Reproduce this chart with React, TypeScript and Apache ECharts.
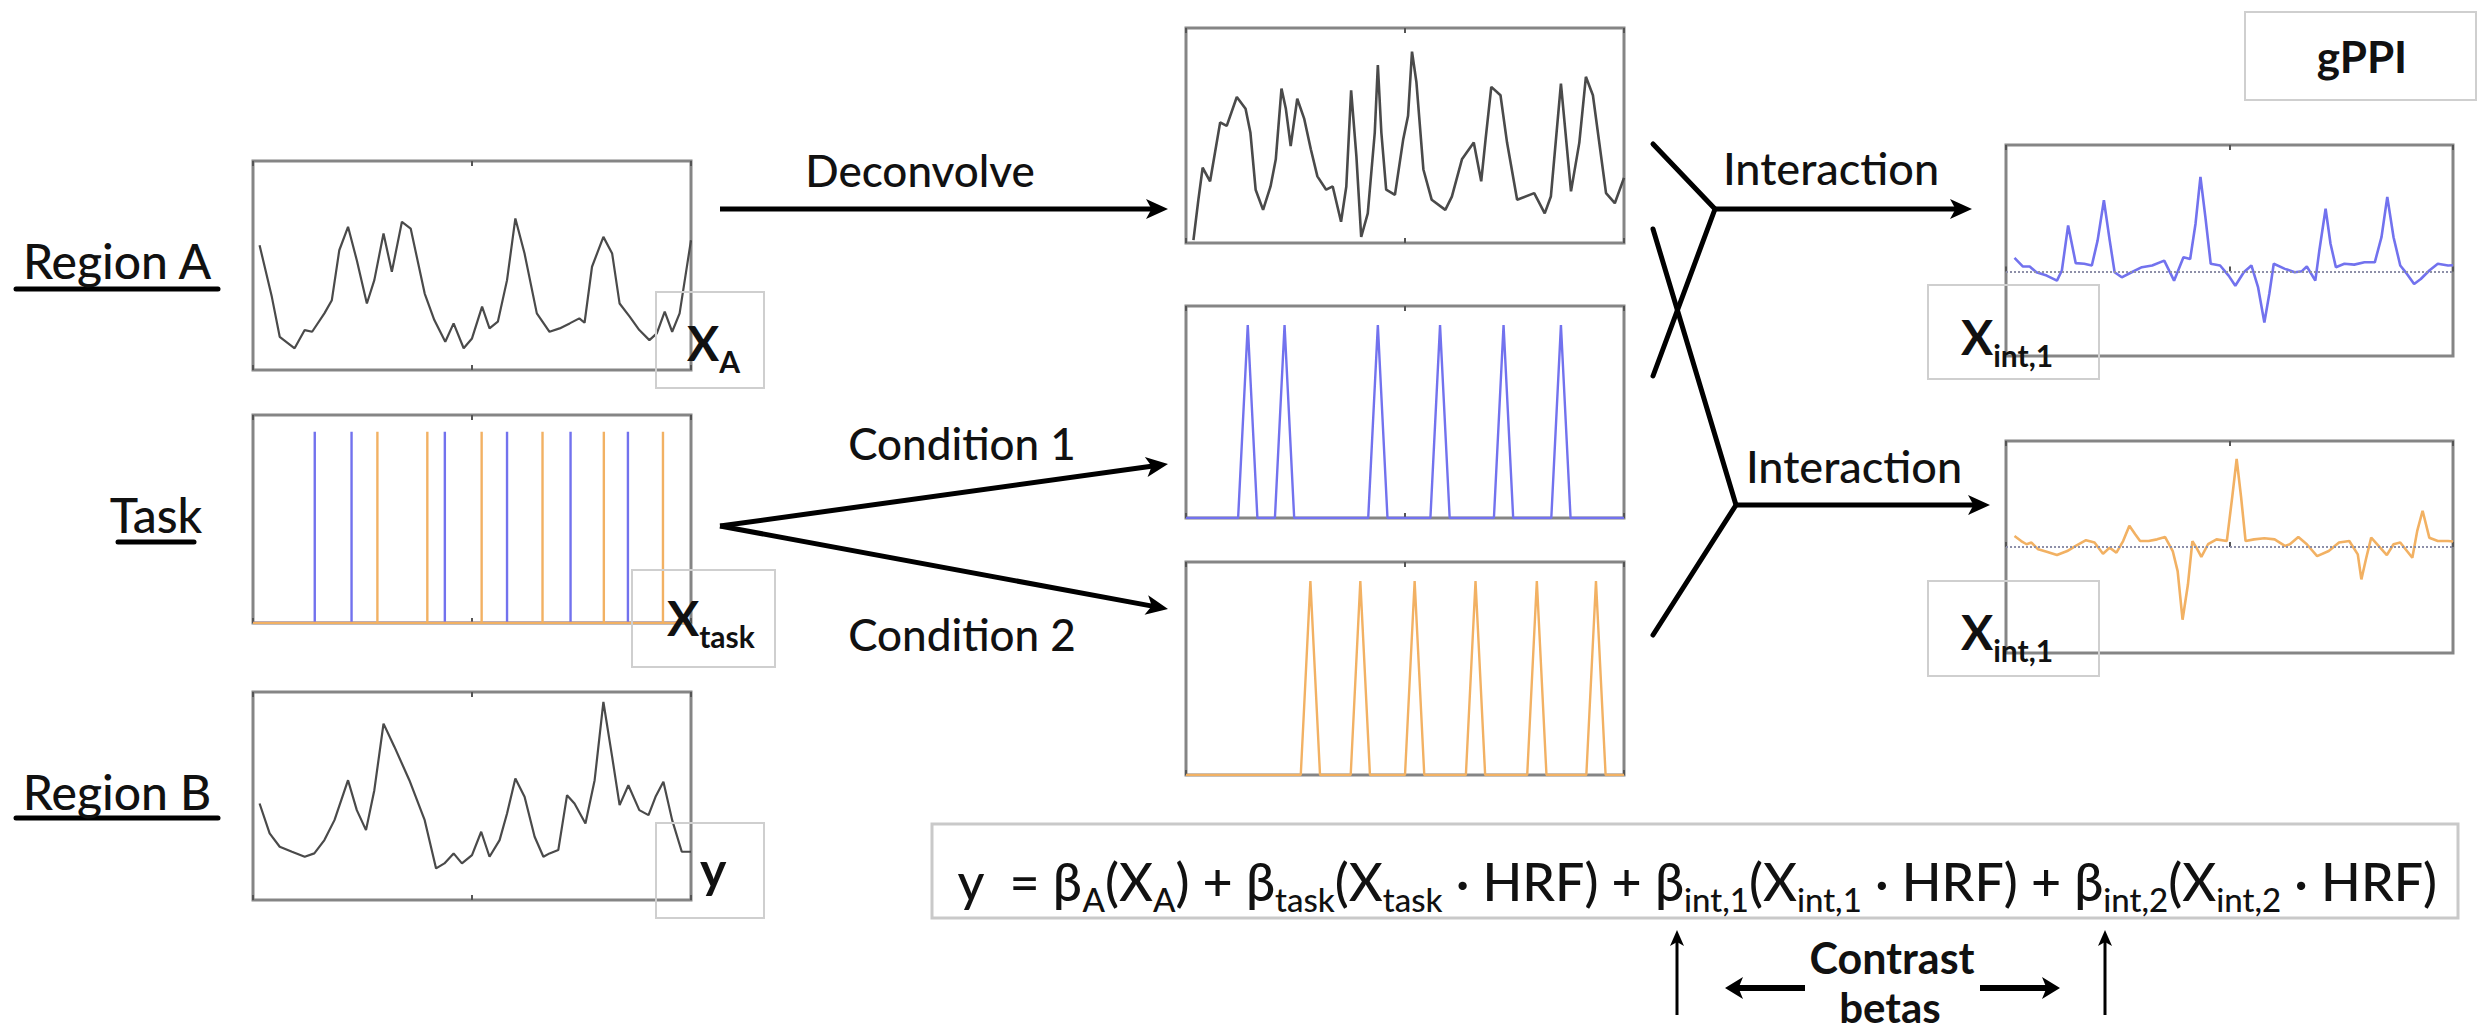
import React, { useEffect, useRef } from 'react';
import * as echarts from 'echarts';

const W = 2479;
const H = 1033;
const FONT = 'Lato, "Open Sans", "DejaVu Sans", sans-serif';

// ---------- data (time axis 0..100) ----------
const regionA: number[][] = [
  [1.5, 5.97], [4.3, 3.5], [6.1, 1.59], [9.5, 1.04], [11.8, 1.91], [13.5, 1.83], [16.3, 2.71], [18.0, 3.34],
  [19.7, 5.73], [21.7, 6.85], [23.7, 5.25], [26.0, 3.18], [27.7, 4.3], [29.8, 6.53], [31.7, 4.7], [34.0, 7.09],
  [36.0, 6.77], [39.2, 3.66], [41.4, 2.39], [43.9, 1.35], [45.8, 2.23], [48.1, 1.04], [50.0, 1.51], [52.3, 3.03],
  [54.0, 1.99], [55.9, 2.31], [58.0, 4.3], [59.9, 7.25], [62.0, 5.57], [64.8, 2.71], [67.7, 1.83], [70.0, 1.99],
  [72.3, 2.23], [74.5, 2.47], [75.7, 2.26], [77.4, 4.94], [80.0, 6.37], [82.0, 5.57], [83.7, 3.18], [86.0, 2.55],
  [88.2, 1.91], [90.5, 1.43], [92.2, 1.75], [94.0, 2.79], [95.7, 1.83], [97.4, 2.71], [100, 6.21],
];

const regionB: number[][] = [
  [1.5, 4.64], [3.8, 3.2], [6.1, 2.56], [8.9, 2.32], [11.8, 2.08], [14.0, 2.24], [16.3, 2.88], [18.6, 3.84],
  [21.7, 5.76], [23.7, 4.32], [25.8, 3.36], [27.7, 5.28], [29.8, 8.48], [32.3, 7.36], [35.7, 5.76], [39.2, 3.84],
  [41.8, 1.52], [43.7, 1.76], [45.8, 2.24], [47.7, 1.76], [50.0, 2.16], [52.1, 3.28], [54.0, 2.08], [56.3, 2.88],
  [58.0, 4.16], [59.9, 5.84], [62.0, 4.96], [64.3, 3.04], [66.3, 2.08], [67.7, 2.24], [69.7, 2.4], [71.7, 5.04],
  [73.4, 4.64], [75.9, 3.68], [78.0, 5.76], [80.0, 9.52], [82.0, 6.88], [83.7, 4.56], [85.7, 5.52], [88.2, 4.32],
  [90.3, 4.08], [91.9, 4.96], [93.7, 5.68], [95.7, 3.84], [97.9, 2.32], [100, 2.32],
];

const deconvolved: number[][] = [
  [1.7, 0.13], [2.8, 1.97], [3.8, 3.5], [5.5, 2.87], [7.8, 5.61], [9.3, 5.45], [11.6, 6.79], [13.6, 6.24],
  [14.7, 5.14], [15.9, 2.48], [17.6, 1.54], [19.3, 2.63], [20.5, 3.89], [21.8, 7.18], [22.8, 6.24], [23.9, 4.51],
  [25.4, 6.71], [27.0, 5.77], [28.5, 4.36], [30.0, 3.1], [32.0, 2.48], [33.5, 2.63], [35.4, 0.99], [36.6, 2.63],
  [37.7, 7.1], [38.9, 4.04], [40.0, 0.28], [41.5, 1.38], [43.1, 5.14], [43.8, 8.28], [44.6, 5.14], [45.7, 2.48],
  [47.7, 2.24], [49.6, 4.83], [50.7, 5.92], [51.6, 8.9], [52.6, 7.49], [54.2, 3.42], [56.1, 2.01], [59.2, 1.54],
  [60.7, 2.16], [63.0, 3.89], [65.7, 4.67], [67.4, 2.87], [68.4, 4.83], [69.7, 7.26], [71.8, 6.87], [73.3, 4.67],
  [75.6, 2.01], [79.5, 2.32], [81.9, 1.38], [83.3, 2.16], [85.6, 7.41], [87.9, 2.4], [89.8, 4.67], [91.3, 7.73],
  [92.9, 6.87], [95.9, 2.32], [97.9, 1.85], [100, 3.03],
];

const cond1Onsets = [14.1, 22.5, 43.8, 58.0, 72.5, 85.6];
const cond2Onsets = [28.4, 39.8, 52.2, 66.1, 80.1, 93.6];
const taskSpikeHeight = 0.92;
const hrfPeak = 0.91;
const hrfHalfWidth = 2.2;

const interaction1: number[][] = [
  [1.9, 0.65], [3.8, 0.24], [5.3, 0.24], [6.8, -0.03], [9.1, -0.19], [11.4, -0.43], [12.5, 0.05], [13.9, 2.19],
  [15.6, 0.4], [17.5, 0.37], [19.2, 0.29], [20.5, 1.48], [21.9, 3.38], [23.2, 1.48], [24.3, -0.03], [25.9, -0.27],
  [28.1, -0.03], [30.4, 0.21], [32.7, 0.29], [35.4, 0.52], [37.6, -0.43], [39.7, 0.68], [41.2, 0.6], [42.4, 2.27],
  [43.5, 4.49], [44.6, 2.59], [45.8, 0.37], [47.9, 0.29], [49.8, -0.19], [51.3, -0.67], [53.2, -0.03], [54.9, 0.29],
  [56.4, -0.75], [57.8, -2.41], [58.9, -1.06], [59.9, 0.37], [62.4, 0.13], [64.6, -0.03], [66.2, 0.02], [67.3, 0.24],
  [69.2, -0.43], [70.1, 1.0], [71.5, 2.98], [72.6, 1.32], [73.8, 0.21], [75.7, 0.37], [77.9, 0.33], [80.2, 0.44],
  [82.5, 0.44], [84.0, 1.63], [85.3, 3.54], [86.7, 1.63], [88.2, 0.29], [89.7, -0.11], [91.3, -0.59], [92.8, -0.35],
  [94.7, 0.05], [96.6, 0.37], [98.9, 0.29], [100, 0.3],
];

const interaction2: number[][] = [
  [1.9, 0.52], [3.4, 0.28], [4.6, 0.13], [5.7, 0.21], [7.2, -0.11], [9.1, -0.22], [11.4, -0.38], [13.7, -0.19],
  [15.6, 0.05], [17.9, 0.32], [19.8, 0.21], [21.7, -0.32], [23.2, -0.03], [24.7, -0.27], [26.2, 0.28], [27.6, 1.0],
  [28.9, 0.6], [30.0, 0.28], [31.9, 0.28], [33.8, 0.36], [35.6, 0.47], [37.3, -0.19], [38.4, -1.14], [39.5, -3.43],
  [40.7, -1.77], [41.7, 0.28], [42.6, -0.03], [43.7, -0.47], [45.2, 0.13], [47.1, 0.36], [49.4, 0.28], [50.6, 2.34],
  [51.6, 4.15], [52.6, 2.34], [53.6, 0.28], [55.5, 0.36], [57.8, 0.41], [60.1, 0.36], [62.4, 0.05], [63.5, 0.13],
  [65.4, 0.47], [67.3, 0.13], [69.6, -0.43], [72.2, -0.19], [74.5, 0.21], [76.8, 0.28], [78.7, -0.35], [79.5, -1.53],
  [80.6, -0.51], [81.7, 0.44], [83.7, -0.03], [85.2, -0.38], [86.7, 0.13], [88.2, 0.21], [89.7, -0.19], [90.9, -0.51],
  [92.0, 0.76], [93.2, 1.71], [94.7, 0.44], [96.6, 0.28], [98.9, 0.28], [100, 0.26],
];

const BLUE = '#7272ee';
const ORANGE = '#f2b163';
const SIGNAL = '#4a4a4a';
const FRAME = '#858585';

function spikes(onsets: number[], h: number): number[][] {
  const out: number[][] = [[0, 0]];
  onsets.forEach((o) => { out.push([o, 0], [o, h], [o, 0]); });
  out.push([100, 0]);
  return out;
}
function hrfPeaks(onsets: number[], h: number, hw: number): number[][] {
  const out: number[][] = [[0, 0]];
  onsets.forEach((o) => { out.push([o - hw, 0], [o, h], [o + hw, 0]); });
  out.push([100, 0]);
  return out;
}

// ---------- layout ----------
const panels = [
  { left: 253, top: 161, width: 438, height: 209, ymin: 0, ymax: 10 },   // 0 Region A
  { left: 253, top: 415, width: 438, height: 208, ymin: 0, ymax: 1 },    // 1 Task
  { left: 253, top: 692, width: 438, height: 208, ymin: 0, ymax: 10 },   // 2 Region B
  { left: 1186, top: 28, width: 438, height: 215, ymin: 0, ymax: 10 },   // 3 deconvolved
  { left: 1186, top: 306, width: 438, height: 212, ymin: 0, ymax: 1 },   // 4 condition 1
  { left: 1186, top: 562, width: 438, height: 213, ymin: 0, ymax: 1 },   // 5 condition 2
  { left: 2006, top: 145, width: 447, height: 211, ymin: -4, ymax: 6 },  // 6 interaction 1
  { left: 2006, top: 441, width: 447, height: 212, ymin: -5, ymax: 5 },  // 7 interaction 2
];

function arrow(x1: number, y1: number, x2: number, y2: number, lw: number, hl: number, hw: number) {
  const dx = x2 - x1, dy = y2 - y1;
  const L = Math.hypot(dx, dy);
  const ux = dx / L, uy = dy / L;
  const px = -uy, py = ux;
  const bx = x2 - ux * hl, by = y2 - uy * hl;
  return [
    { type: 'line', shape: { x1, y1, x2: bx + ux * hl * 0.4, y2: by + uy * hl * 0.4 }, style: { stroke: '#000', lineWidth: lw } },
    {
      type: 'polygon',
      shape: { points: [[x2, y2], [bx + px * hw, by + py * hw], [bx + ux * hl * 0.25, by + uy * hl * 0.25], [bx - px * hw, by - py * hw]] },
      style: { fill: '#000' },
    },
  ];
}
function seg(x1: number, y1: number, x2: number, y2: number, lw: number) {
  return { type: 'line', shape: { x1, y1, x2, y2 }, style: { stroke: '#000', lineWidth: lw, lineCap: 'round' } };
}
function box(x: number, y: number, w: number, h: number, color = '#cfcfcf', lw = 2) {
  return { type: 'rect', shape: { x, y, width: w, height: h }, style: { fill: 'none', stroke: color, lineWidth: lw }, z: 10 };
}
function txt(text: string, x: number, y: number, size: number, weight: string | number = 500, align = 'center') {
  return {
    type: 'text', z: 12,
    style: { text, x, y, fill: '#111', fontSize: size, fontWeight: weight, fontFamily: FONT, textAlign: align, textVerticalAlign: 'middle' },
  };
}
const subRich = {
  x: { fontSize: 48, fontWeight: 'bold', fontFamily: FONT, lineHeight: 40, verticalAlign: 'top' },
  s: { fontSize: 30, fontWeight: 'bold', fontFamily: FONT, lineHeight: 30, padding: [28, 0, 0, 0], verticalAlign: 'top' },
};
function subLabel(main: string, sub: string, x: number, top: number) {
  return {
    type: 'text', z: 12,
    style: { text: `{x|${main}}{s|${sub}}`, x, y: top, fill: '#111', textAlign: 'left', textVerticalAlign: 'top', rich: subRich },
  };
}

const equation =
  '{m|y  = β}{s|A}{m|(X}{s|A}{m|) + β}{s|task}{m|(X}{s|task}{m| · HRF) + β}{s|int,1}{m|(X}{s|int,1}{m| · HRF) + β}{s|int,2}{m|(X}{s|int,2}{m| · HRF)}';

function buildOption() {
  const grid = panels.map((p) => ({
    left: p.left, top: p.top, width: p.width, height: p.height,
    show: true, borderColor: FRAME, borderWidth: 3, backgroundColor: 'transparent', containLabel: false,
  }));
  const xAxis: any[] = [];
  panels.forEach((_, i) => {
    ['bottom', 'top'].forEach((pos) => {
      xAxis.push({
        gridIndex: i, type: 'value', min: 0, max: 100, interval: 50, position: pos,
        axisLine: { show: false },
        axisTick: { show: true, inside: true, length: 5, lineStyle: { color: '#555', width: 2 } },
        axisLabel: { show: false }, splitLine: { show: false },
      });
    });
  });
  const yAxis = panels.map((p, i) => ({ gridIndex: i, type: 'value', min: p.ymin, max: p.ymax, show: false }));

  const line = (i: number, data: number[][], color: string, width = 2.2, extra: any = {}) => ({
    type: 'line', xAxisIndex: i * 2, yAxisIndex: i, data, showSymbol: false, symbol: 'none',
    lineStyle: { color, width }, silent: true, z: 3, ...extra,
  });
  const zeroLine = {
    silent: true, symbol: ['none', 'none'], label: { show: false },
    lineStyle: { type: 'dotted', color: '#8d8fa8', width: 2 },
    data: [{ yAxis: 0 }],
  };

  const series = [
    line(0, regionA, SIGNAL),
    line(1, spikes(cond1Onsets, taskSpikeHeight), BLUE, 2.4),
    line(1, spikes(cond2Onsets, taskSpikeHeight), ORANGE, 2.4),
    line(2, regionB, SIGNAL),
    line(3, deconvolved, SIGNAL, 2.6),
    line(4, hrfPeaks(cond1Onsets, hrfPeak, hrfHalfWidth), BLUE, 2.4),
    line(5, hrfPeaks(cond2Onsets, hrfPeak, hrfHalfWidth), ORANGE, 2.4),
    line(6, interaction1, BLUE, 2.6, { markLine: zeroLine }),
    line(7, interaction2, ORANGE, 2.6, { markLine: zeroLine }),
  ];

  const graphic: any[] = [
    // left labels
    txt('Region A', 117, 260, 48),
    seg(16, 289, 218, 289, 5),
    txt('Task', 156, 514, 48),
    seg(118, 542, 194, 542, 5),
    txt('Region B', 117, 791, 48),
    seg(16, 818, 218, 818, 5),
    // signal label boxes
    box(656, 292, 108, 96),
    subLabel('X', 'A', 687, 318),
    box(632, 570, 143, 97),
    subLabel('X', 'task', 667, 593),
    box(656, 823, 108, 95),
    txt('y', 700, 869, 50, 'bold', 'left'),
    // arrows to middle column
    txt('Deconvolve', 920, 170, 44),
    ...arrow(720, 209, 1168, 209, 5, 22, 10),
    txt('Condition 1', 962, 443, 44),
    txt('Condition 2', 962, 634, 44),
    ...arrow(720, 526, 1168, 464, 5, 22, 10),
    ...arrow(720, 526, 1168, 609, 5, 22, 10),
    // crossing lines
    seg(1653, 144, 1715, 209, 5),
    seg(1715, 209, 1653, 376, 5),
    seg(1653, 229, 1736, 505, 5),
    seg(1736, 505, 1653, 635, 5),
    ...arrow(1715, 209, 1972, 209, 5, 22, 10),
    ...arrow(1736, 505, 1990, 505, 5, 22, 10),
    txt('Interaction', 1831, 168, 45),
    txt('Interaction', 1854, 466, 45),
    // interaction label boxes
    box(1928, 285, 171, 94),
    subLabel('X', 'int,1', 1961, 312),
    box(1928, 581, 171, 95),
    subLabel('X', 'int,1', 1961, 607),
    // gPPI
    box(2245, 12, 231, 88),
    txt('gPPI', 2362, 56, 44, 'bold'),
    // equation
    box(932, 824, 1526, 94, '#c9c9c9', 3),
    {
      type: 'text', z: 12,
      style: {
        text: equation, x: 1697, y: 878, fill: '#111', textAlign: 'center', textVerticalAlign: 'middle',
        rich: {
          m: { fontSize: 52, fontWeight: 500, fontFamily: FONT, lineHeight: 46, verticalAlign: 'top' },
          s: { fontSize: 33, fontWeight: 500, fontFamily: FONT, lineHeight: 33, padding: [27, 0, 0, 0], verticalAlign: 'top' },
        },
      },
    },
    // contrast betas
    ...arrow(1677, 1015, 1677, 930, 3, 16, 7),
    ...arrow(2105, 1015, 2105, 930, 3, 16, 7),
    txt('Contrast', 1892, 957, 43, 'bold'),
    txt('betas', 1890, 1007, 42, 'bold'),
    ...arrow(1805, 988, 1725, 988, 6, 18, 11),
    ...arrow(1980, 988, 2060, 988, 6, 18, 11),
  ];

  return { animation: false, backgroundColor: '#ffffff', grid, xAxis, yAxis, series, graphic };
}

export default function App() {
  const ref = useRef<HTMLDivElement>(null);
  useEffect(() => {
    if (!ref.current) return;
    const chart = echarts.init(ref.current, null, { renderer: 'svg' });
    chart.setOption(buildOption() as any);
    return () => chart.dispose();
  }, []);
  return <div ref={ref} style={{ position: 'absolute', left: 0, top: 0, width: W, height: H, background: '#fff' }} />;
}
